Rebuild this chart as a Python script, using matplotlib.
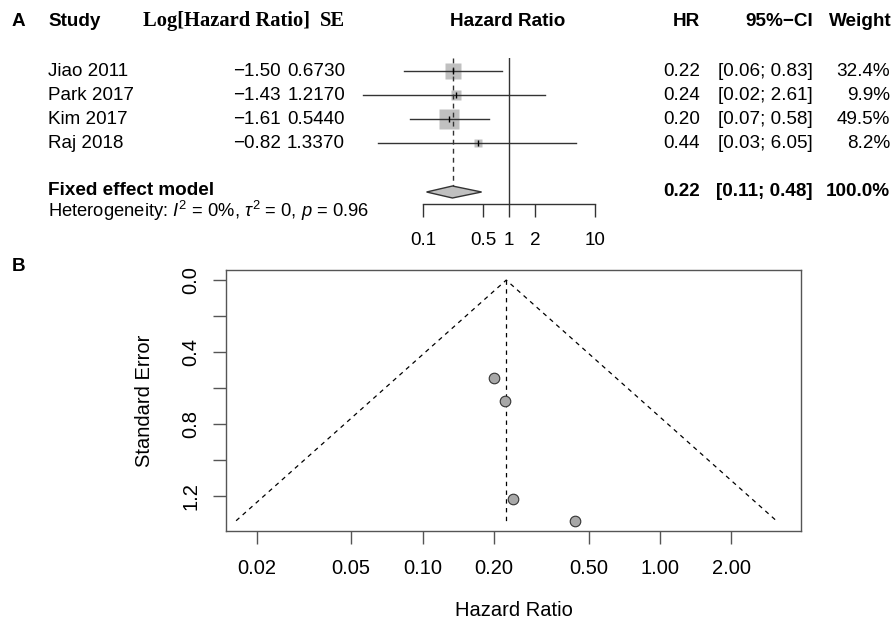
""" Forest plot (A) and funnel plot (B) of hazard ratios """

import matplotlib
matplotlib.use('Agg')
import matplotlib.pyplot as plt
import numpy as np
from matplotlib.transforms import blended_transform_factory

plt.rcParams['font.family'] = 'Liberation Sans'
plt.rcParams['mathtext.fontset'] = 'custom'
plt.rcParams['mathtext.rm'] = 'Liberation Sans'
plt.rcParams['mathtext.it'] = 'Liberation Sans:italic'

# data as printed in the forest table
STUDIES = ['Jiao 2011', 'Park 2017', 'Kim 2017', 'Raj 2018']
LOG_HR = [-1.50, -1.43, -1.61, -0.82]
SE = [0.6730, 1.2170, 0.5440, 1.3370]
HR = [0.22, 0.24, 0.20, 0.44]
CI_LO = [0.06, 0.02, 0.07, 0.03]
CI_HI = [0.83, 2.61, 0.58, 6.05]
WEIGHT = [32.4, 9.9, 49.5, 8.2]
FIXED_HR, FIXED_LO, FIXED_HI = 0.22, 0.11, 0.48
HET_TEXT = r'Heterogeneity: $I^2$ = 0%, $\tau^2$ = 0, $p$ = 0.96'

FOREST_TICKS = [0.1, 0.5, 1, 2, 10]
FUNNEL_XTICKS = [0.02, 0.05, 0.10, 0.20, 0.50, 1.00, 2.00]
FUNNEL_YTICKS = [0.0, 0.2, 0.4, 0.6, 0.8, 1.0, 1.2]

W, H = 895, 627
LINE = '#333333'
BOX = '#c0c0c0'
FS = 13.6


def px_box(left, top, right, bottom):
    return [left / W, 1 - bottom / H, (right - left) / W, (bottom - top) / H]


log_hr = np.array(LOG_HR)
se = np.array(SE)
w = 1 / se ** 2
pooled = np.sum(w * log_hr) / np.sum(w)

fig = plt.figure(figsize=(W / 100, H / 100), dpi=100)

# ---------- A: forest plot ----------
ROW = 24  # px per row, first row centre at 71 px, axis at 204 px
ax = fig.add_axes(px_box(423, 58, 595, 204))
ax.set_xscale('log')
ax.set_xlim(0.1, 10)
ax.set_ylim((204 - 71) / ROW, (58 - 71) / ROW)
for s in ('top', 'left', 'right'):
    ax.spines[s].set_visible(False)
ax.spines['bottom'].set_color(LINE)
ax.spines['bottom'].set_linewidth(1)
ax.minorticks_off()
ax.set_xticks(FOREST_TICKS)
ax.set_xticklabels([f'{t:g}' for t in FOREST_TICKS], fontsize=FS)
ax.tick_params(axis='x', direction='out', length=9.4, width=1, color=LINE, pad=10.5)
ax.set_yticks([])
ax.patch.set_visible(False)

ax.axvline(1, color=LINE, lw=1)
fixed_row = (192 - 71) / ROW
half_d = 6 / ROW
ax.plot([np.exp(pooled)] * 2, [(58 - 71) / ROW, fixed_row - half_d], color=LINE,
        lw=1, ls=(0, (3.5, 3)))

for i in range(len(STUDIES)):
    ax.plot([CI_LO[i], CI_HI[i]], [i, i], color=LINE, lw=1, clip_on=False, zorder=2)
    side = 29.8 * np.sqrt(WEIGHT[i] / 100) * 0.72
    ax.plot(np.exp(log_hr[i]), i, marker='s', ms=side, color=BOX, mec='none',
            clip_on=False, zorder=1)
    ax.plot(np.exp(log_hr[i]), i, marker='|', ms=5, mew=1, color='black',
            clip_on=False, zorder=3)

ax.fill([FIXED_LO, FIXED_HR, FIXED_HI, FIXED_HR],
        [fixed_row, fixed_row - half_d, fixed_row, fixed_row + half_d],
        facecolor=BOX, edgecolor=LINE, lw=1, zorder=3)

tr = blended_transform_factory(fig.transFigure, ax.transData)


def row_text(x, row, s, ha='left', size=FS, **kw):
    fig.text(x / W, row, s, transform=tr, ha=ha, va='center', fontsize=size, **kw)


head = (21 - 71) / ROW
row_text(12, head, 'A', fontweight='bold')
row_text(48, head, 'Study', fontweight='bold')
row_text(143, head, 'Log[Hazard Ratio]', size=14.8, family='Liberation Serif',
         fontweight='bold')
row_text(345, head, 'SE', ha='right', size=14.8, family='Liberation Serif',
         fontweight='bold')
row_text(508, head, 'Hazard Ratio', ha='center', fontweight='bold')
row_text(700, head, 'HR', ha='right', fontweight='bold')
row_text(813, head, '95%\u2212CI', ha='right', fontweight='bold')
row_text(892, head, 'Weight', ha='right', fontweight='bold')

for i, name in enumerate(STUDIES):
    row_text(48, i, name)
    row_text(281, i, f'{LOG_HR[i]:.2f}'.replace('-', '\u2212'), ha='right')
    row_text(345, i, f'{SE[i]:.4f}', ha='right')
    row_text(700, i, f'{HR[i]:.2f}', ha='right')
    row_text(813, i, f'[{CI_LO[i]:.2f}; {CI_HI[i]:.2f}]', ha='right')
    row_text(890, i, f'{WEIGHT[i]:.1f}%', ha='right')

row_text(48, (191 - 71) / ROW, 'Fixed effect model', fontweight='bold')
row_text(700, fixed_row, f'{FIXED_HR:.2f}', ha='right', fontweight='bold')
row_text(813, fixed_row, f'[{FIXED_LO:.2f}; {FIXED_HI:.2f}]', ha='right', fontweight='bold')
row_text(890, fixed_row, f'{sum(WEIGHT):.1f}%', ha='right', fontweight='bold')
row_text(48, (211 - 71) / ROW, HET_TEXT, size=13.2)

# ---------- B: funnel plot ----------
fax = fig.add_axes(px_box(226, 270, 801, 531))
fax.set_xscale('log')
fax.set_xlim(0.01484, 3.926)
fax.set_ylim(1.394, -0.056)
for s in fax.spines.values():
    s.set_color('#555555')
    s.set_linewidth(1)
fax.minorticks_off()
fax.set_xticks(FUNNEL_XTICKS)
fax.set_xticklabels([f'{t:.2f}' for t in FUNNEL_XTICKS], fontsize=14.5)
fax.set_yticks(FUNNEL_YTICKS)
fax.set_yticklabels([f'{t:.1f}' if k % 2 == 0 else '' for k, t in enumerate(FUNNEL_YTICKS)],
                    fontsize=14.5, rotation=90, va='center')
fax.tick_params(direction='out', length=9.4, width=1, color='#555555')
fax.tick_params(axis='x', pad=11)
fax.tick_params(axis='y', pad=9)

se_max = se.max()
lo_f = np.exp(pooled - 1.96 * se_max)
hi_f = np.exp(pooled + 1.96 * se_max)
fax.plot([lo_f, np.exp(pooled), hi_f], [se_max, 0, se_max], color='black', lw=0.9,
         ls=(0, (3.5, 3.5)))
fax.plot([np.exp(pooled)] * 2, [0, se_max], color='black', lw=0.9, ls=(0, (3.5, 3.5)))
fax.scatter(np.exp(log_hr), se, s=58, facecolor='#a8a8a8', edgecolor='#333333',
            lw=0.8, zorder=3)

fax.set_xlabel('Hazard Ratio', fontsize=14.5)
fax.xaxis.set_label_coords(0.5, (531 - 610) / 261)
fax.xaxis.label.set_va('center')
fax.set_ylabel('Standard Error', fontsize=14.5)
fax.yaxis.set_label_coords((145 - 226) / 575, 0.5)
fax.yaxis.label.set_va('center')

fig.text(12 / W, 1 - 266 / H, 'B', fontsize=FS, fontweight='bold', va='center')

fig.savefig('out.png', dpi=100)
